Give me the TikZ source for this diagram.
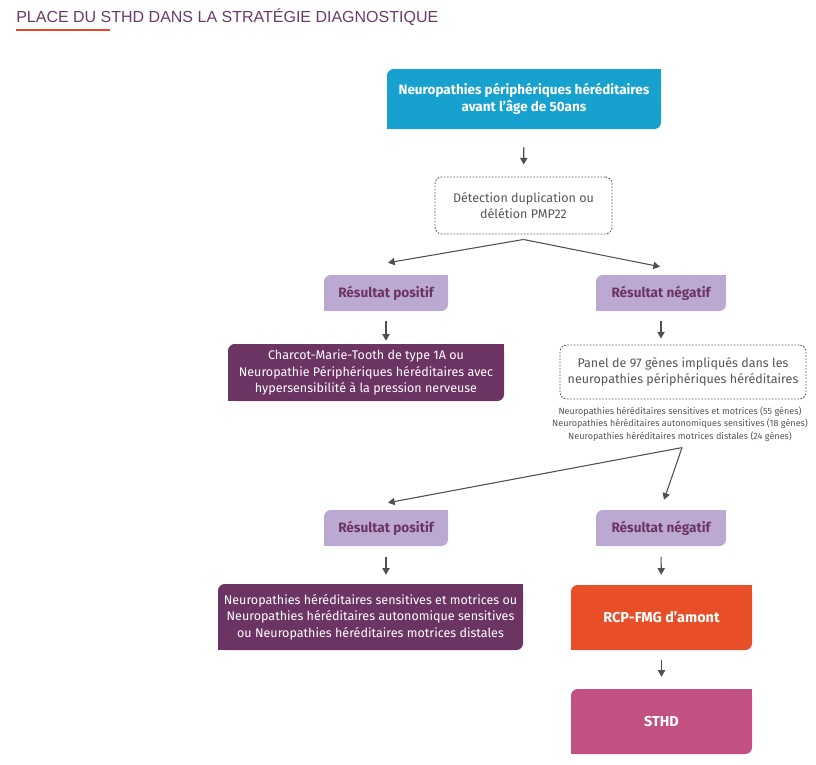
\documentclass[tikz,border=0pt]{standalone}
\usepackage{fontspec}
\setmainfont{Fira Sans}
\newfontfamily\titlefont{Liberation Sans}
\usetikzlibrary{arrows.meta,calc}

\definecolor{titlepurple}{HTML}{6A3A6C}
\definecolor{lineorange}{HTML}{E8452A}
\definecolor{topblue}{HTML}{17A1CF}
\definecolor{lavender}{HTML}{BBA9D2}
\definecolor{plum}{HTML}{6C3463}
\definecolor{rcporange}{HTML}{E84E27}
\definecolor{sthdpink}{HTML}{C25083}
\definecolor{arrowgray}{HTML}{505050}
\definecolor{textgray}{HTML}{555555}

\begin{document}
\begin{tikzpicture}[x=0.75pt,y=0.75pt,yscale=-1,xscale=1,
    box/.style={rounded corners=5pt, inner sep=0pt, align=center,
      font=\fontsize{9.4}{12.4}\selectfont},
    solidbox/.style={box, fill=#1, text=white},
    boldtext/.style={font=\fontsize{#1}{12.4}\selectfont\bfseries},
    resultbox/.style={box, fill=lavender, text=plum, boldtext=10.2,
      minimum height=27pt},
    dashbox/.style={box, draw=textgray, line width=0.7pt, dash pattern=on 1.2pt off 1.2pt,
      text=textgray},
    arr/.style={-{Triangle[length=5pt,width=5.5pt]}, draw=arrowgray, line width=0.8pt}]
%set diagram size
\useasboundingbox (0,0) rectangle (816,764);

% Title
\node[anchor=west, inner sep=0pt, text=titlepurple, font=\titlefont\fontsize{12}{14}\selectfont]
  (title) at (16,17) {PLACE DU STHD DANS LA STRATÉGIE DIAGNOSTIQUE};
\draw[lineorange, line width=1.8pt] (16,30) -- (110,30);

% Boxes
\node[solidbox=topblue, boldtext=10.1,
  minimum width=205.5pt, minimum height=45pt] (top) at (524,99)
  {Neuropathies périphériques héréditaires\\avant l'âge de 50ans};
\node[dashbox, minimum width=132.75pt, minimum height=42.75pt] (detect) at (523.5,205.5)
  {Détection duplication ou\\délétion PMP22};

\node[resultbox, minimum width=93pt] (pos1) at (386,293) {Résultat positif};
\node[resultbox, minimum width=97.5pt] (neg1) at (661,293) {Résultat négatif};

\node[solidbox=plum, minimum width=207pt, minimum height=42.75pt] (cmt) at (366,372.5)
  {Charcot-Marie-Tooth de type 1A ou\\Neuropathie Périphériques héréditaires avec\\hypersensibilité à la pression nerveuse};
\node[dashbox, minimum width=184.5pt, minimum height=40.5pt] (panel) at (683,372)
  {Panel de 97 gènes impliqués dans les\\neuropathies périphériques héréditaires};
\node[inner sep=0pt, align=center, text=textgray, font=\fontsize{6.8}{9.4}\selectfont]
  (genes) at (680,424)
  {Neuropathies héréditaires sensitives et motrices (55 gènes)\\
   Neuropathies héréditaires autonomiques sensitives (18 gènes)\\
   Neuropathies héréditaires motrices distales (24 gènes)};

\node[resultbox, minimum width=93pt] (pos2) at (386,528) {Résultat positif};
\node[resultbox, minimum width=97.5pt] (neg2) at (661,528) {Résultat négatif};

\node[solidbox=plum, minimum width=228.75pt, minimum height=49.5pt] (nhsm) at (370.5,617)
  {Neuropathies héréditaires sensitives et motrices ou\\Neuropathies héréditaires autonomique sensitives\\ou Neuropathies héréditaires motrices distales};
\node[solidbox=rcporange, boldtext=10.8,
  minimum width=135.75pt, minimum height=48.75pt] (rcp) at (661.5,617.5) {RCP-FMG d’amont};
\node[solidbox=sthdpink, boldtext=10.8,
  minimum width=135.75pt, minimum height=48.75pt] (sthd) at (661.5,721.5) {STHD};

% square corners (top right, bottom left)
\foreach \n/\c in {top/topblue, pos1/lavender, neg1/lavender, cmt/plum, pos2/lavender,
    neg2/lavender, nhsm/plum, rcp/rcporange, sthd/sthdpink} {
  \fill[\c] (\n.north east) rectangle ++(-9,9);
  \fill[\c] (\n.south west) rectangle ++(9,-9);
}

% Arrows
\coordinate (split1) at ($(detect.south)+(0,5)$);
\coordinate (split2) at ($(genes.south)+(2,6)$);
\draw[arr, shorten <=13.5pt, shorten >=9pt] (top) -- (detect);
\draw[arr] (split1) -- ($(pos1.north)+(2,-12)$);
\draw[arr] (split1) -- ($(neg1.north)+(-1,-8)$);
\draw[arr, shorten <=7.5pt, shorten >=2.25pt] (pos1.south) -- (pos1.south |- cmt.north);
\draw[arr, shorten <=7.5pt, shorten >=4.5pt] (neg1.south) -- (neg1.south |- panel.north);
\draw[arr] (split2) -- ($(pos2.north)+(2,-7)$);
\draw[arr] (split2) -- ($(neg2.north)+(3,-10)$);
\draw[arr, shorten <=8pt, shorten >=6.75pt] (pos2.south) -- (pos2.south |- nhsm.north);
\draw[arr, shorten <=8pt, shorten >=7.5pt] (neg2) -- (rcp);
\draw[arr, shorten <=7.5pt, shorten >=9pt] (rcp) -- (sthd);

\end{tikzpicture}
\end{document}
